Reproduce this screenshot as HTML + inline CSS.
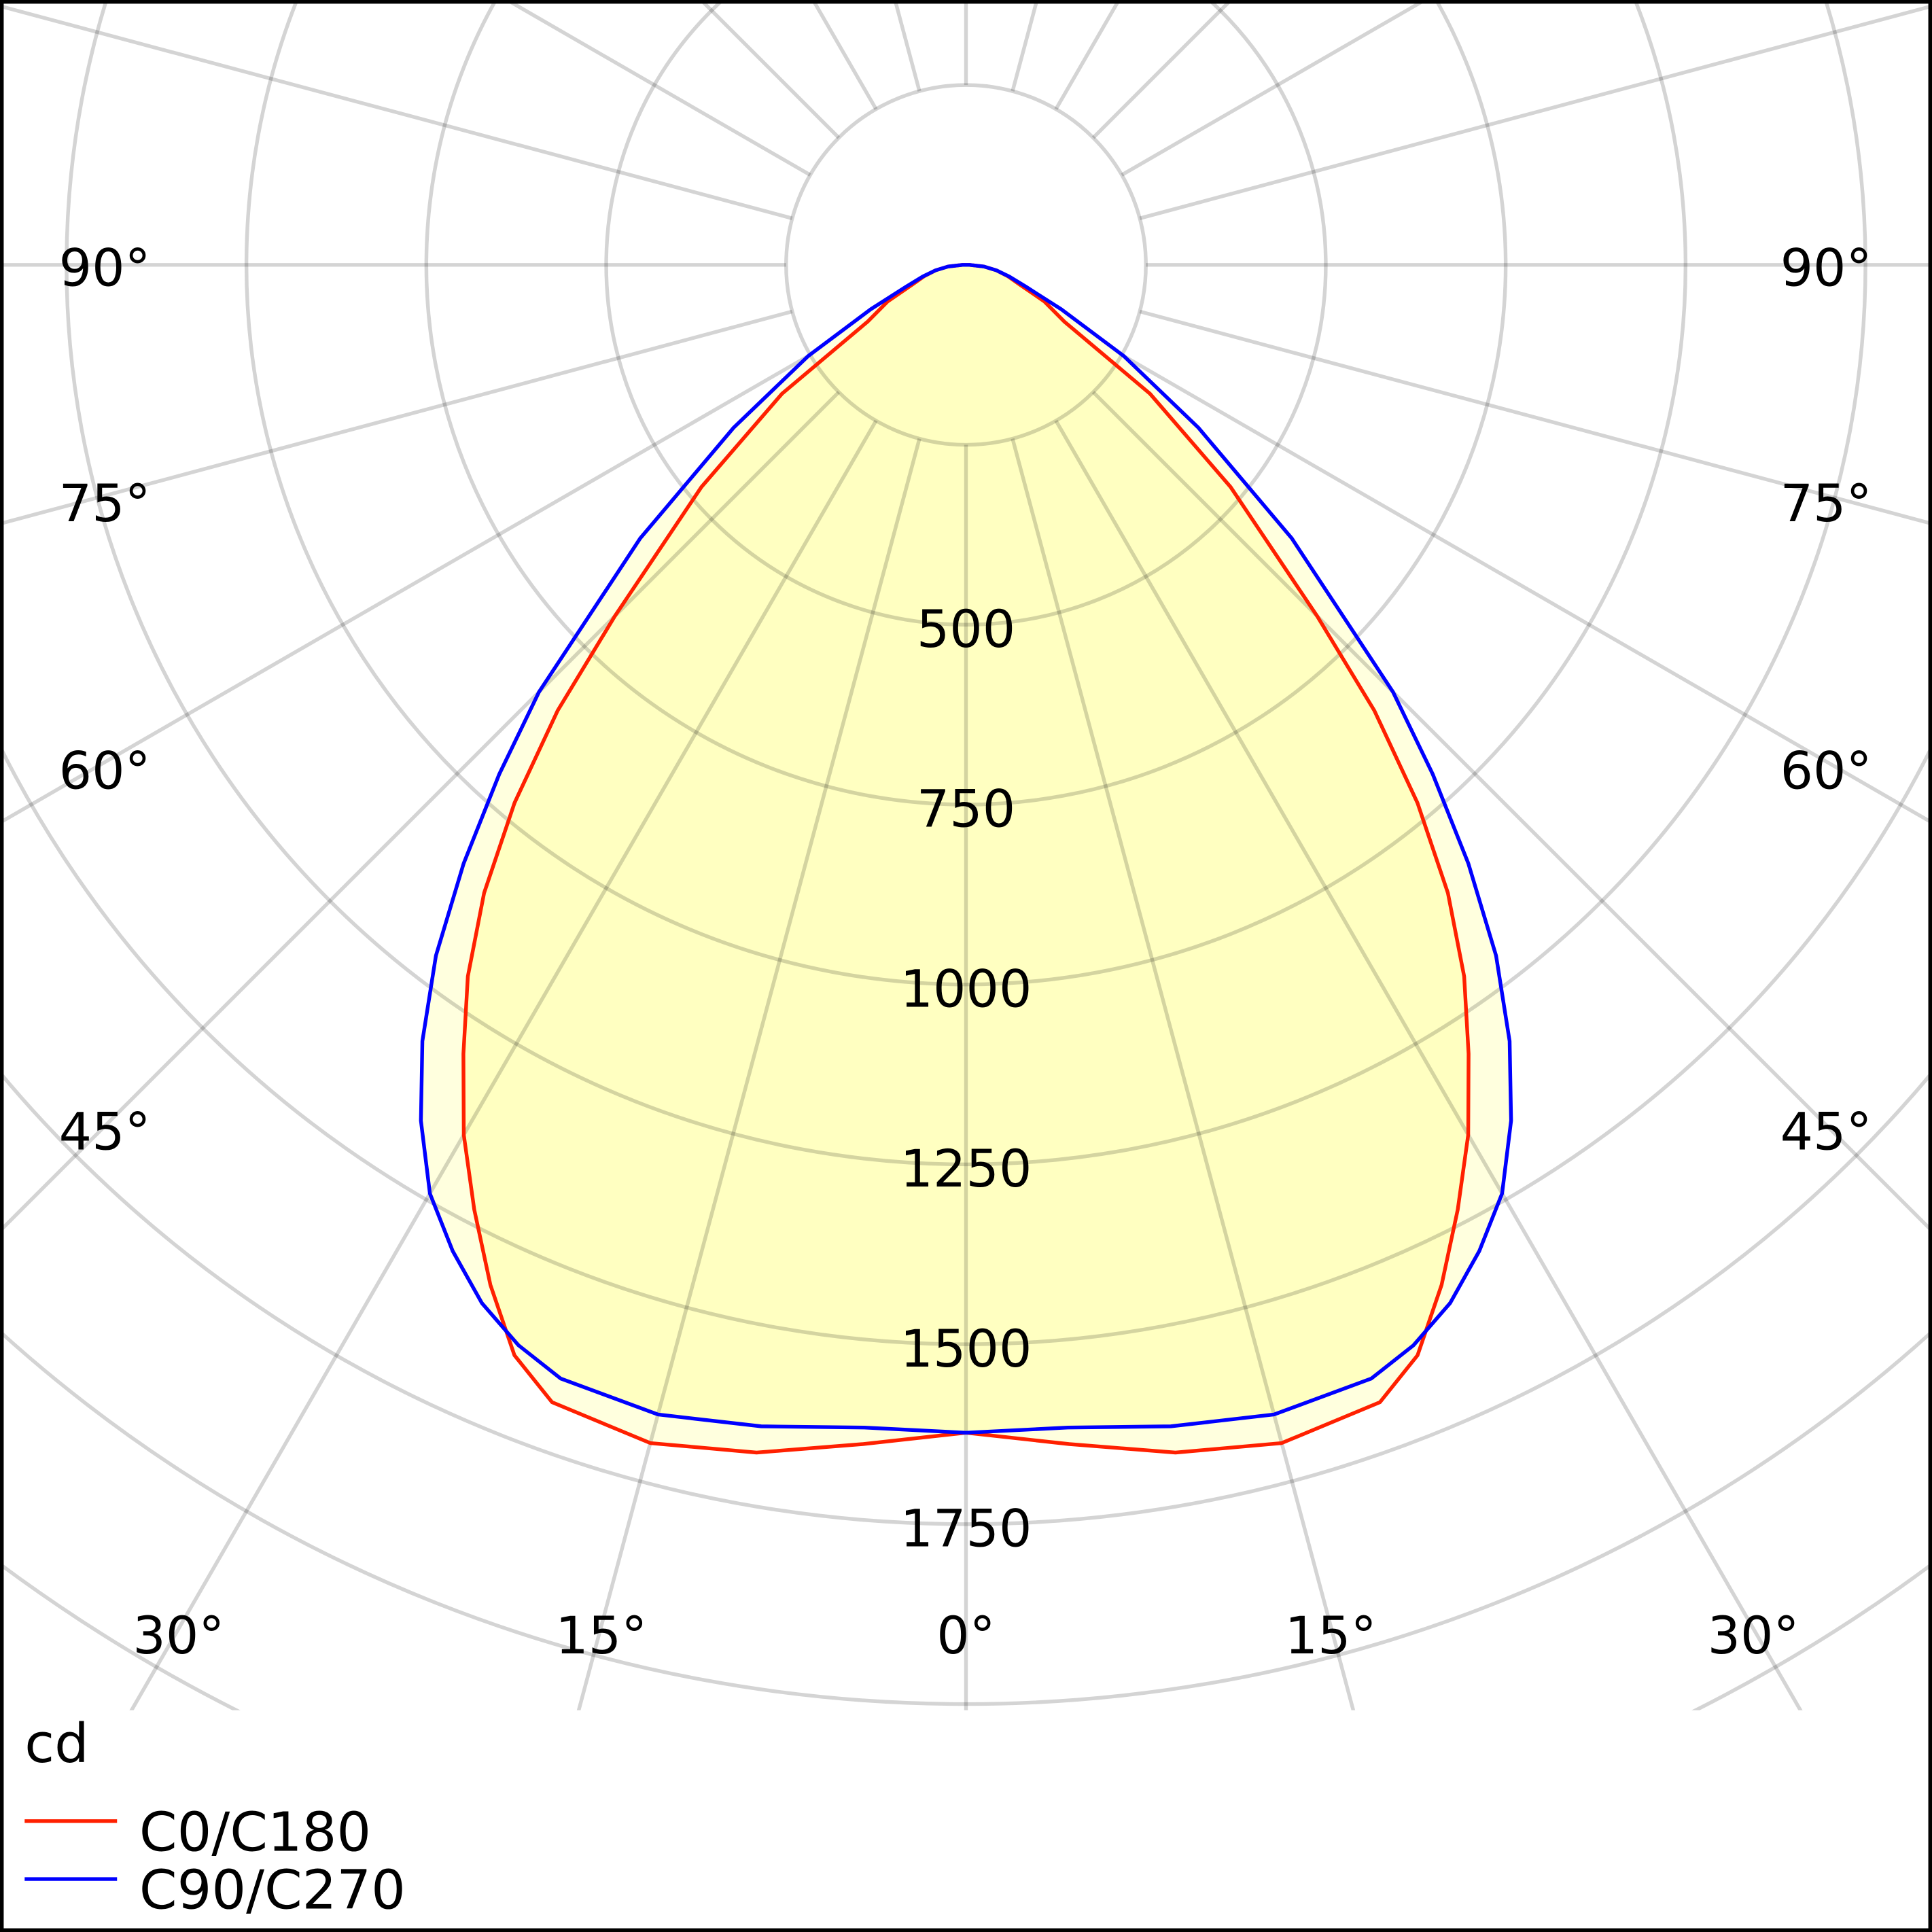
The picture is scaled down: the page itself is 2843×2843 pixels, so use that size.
<!DOCTYPE html>
<html><head><meta charset="utf-8"><style>
html,body{margin:0;padding:0;background:#fff;overflow:hidden;width:2843px;height:2843px}
svg{display:block}
text{font-family:"DejaVu Sans","Liberation Sans",sans-serif;fill:#000}
</style></head><body>
<svg id="chart" width="2843" height="2843" viewBox="0 0 1568 1568" xmlns="http://www.w3.org/2000/svg">
<defs><clipPath id="plotclip"><rect x="0" y="0" width="1568" height="1388"/></clipPath></defs>
<rect x="0" y="0" width="1568" height="1568" fill="#fff"/>
<g id="fills" clip-path="url(#plotclip)"></g>
<g id="grid" clip-path="url(#plotclip)"></g>
<g id="curves" clip-path="url(#plotclip)"></g>
<g id="labels"></g>
<g>
<text x="20" y="1430" font-size="44">cd</text>
<line x1="20" y1="1478" x2="95" y2="1478" stroke="#ff2000" stroke-width="3"/>
<text x="113" y="1502" font-size="44">C0/C180</text>
<line x1="20" y1="1525" x2="95" y2="1525" stroke="#0000ff" stroke-width="3"/>
<text x="113" y="1549" font-size="44">C90/C270</text>
</g>
<rect x="1.5" y="1.5" width="1565" height="1565" fill="none" stroke="#000" stroke-width="3"/>
</svg>
<script>
const angles = [0,5,10,15,20,22.5,25,27.5,30,32.5,35,37.5,40,42.5,45,50,55,60,65,70,75,80,85,90];
const c0Values = [1623,1645,1676,1695,1682,1640,1564,1480,1396,1300,1207,1100,976,840,690,480,312,158,120,79,60,43,25,5];
const c90Values = [1623,1622,1639,1654,1647,1625,1592,1545,1490,1410,1317,1210,1086,960,839,591,394,253,146,89,62,43,25,5];
const ringValues = [250,500,750,1000,1250,1500,1750,2000,2250,2500,2750,3000,3250];
const ringLabels = ["500","750","1000","1250","1500","1750"];
const angleTicks = [90,75,60,45];
const angleTickY = [232,423,640,933];
const bottomAngleTicks = [30,15,0];
const NS = "http://www.w3.org/2000/svg";
const cx = 784, cy = 215, pxPer250 = 146;
function rScale(v){ return v/250*pxPer250; }
function pt(g, v, side){ const a=g*Math.PI/180, r=rScale(v); return [cx + side*r*Math.sin(a), cy + r*Math.cos(a)]; }
function mk(tag, attrs, parent){ const e=document.createElementNS(NS,tag); for(const k in attrs) e.setAttribute(k,attrs[k]); parent.appendChild(e); return e; }
function curvePts(vals){
  const pts=[];
  for(let i=angles.length-1;i>=0;i--) pts.push(pt(angles[i],vals[i],-1));
  for(let i=1;i<angles.length;i++) pts.push(pt(angles[i],vals[i],1));
  return pts.map(p=>p[0].toFixed(1)+","+p[1].toFixed(1)).join(" ");
}
const fills=document.getElementById('fills'), grid=document.getElementById('grid'), curves=document.getElementById('curves'), labels=document.getElementById('labels');
[[c90Values,'fill-c90'],[c0Values,'fill-c0']].forEach(([vals,name])=>{
  const p=mk('polygon',{points:curvePts(vals),fill:'rgba(255,255,0,0.13)',stroke:'none'},fills);
  
  
});
ringValues.forEach(v=>{
  const c=mk('circle',{cx:cx,cy:cy,r:rScale(v),fill:'none',stroke:'rgba(0,0,0,0.17)','stroke-width':3},grid);
  
  
});
for(let g=0; g<360; g+=15){
  const a=g*Math.PI/180, r0=rScale(250), r1=3000;
  const l=mk('line',{x1:cx+r0*Math.sin(a),y1:cy+r0*Math.cos(a),x2:cx+r1*Math.sin(a),y2:cy+r1*Math.cos(a),stroke:'rgba(0,0,0,0.17)','stroke-width':3},grid);
  
  
}
[[c0Values,'#ff2000','curve-c0-c180'],[c90Values,'#0000ff','curve-c90-c270']].forEach(([vals,col,name])=>{
  const p=mk('polygon',{points:curvePts(vals),fill:'none',stroke:col,'stroke-width':3,'stroke-linejoin':'round'},curves);
  
  
});
ringLabels.forEach(s=>{
  const v=+s;
  const t=mk('text',{x:cx,y:cy+rScale(v)+18,'font-size':42,'text-anchor':'middle'},labels);
  t.textContent=s;
  
  
});
angleTicks.forEach((g,i)=>{
  const y=angleTickY[i];
  [[-1,85],[1,1482]].forEach(([s,x])=>{
    const t=mk('text',{x:x,y:y,'font-size':42,'text-anchor':'middle'},labels);
    t.textContent=g+'°';
    
    
  });
});
bottomAngleTicks.forEach(g=>{
  const dx = g===0?0:(g===15?296:639);
  [-1,1].forEach(s=>{
    if(g===0 && s>0) return;
    const t=mk('text',{x:cx+s*dx,y:1342,'font-size':42,'text-anchor':'middle'},labels);
    t.textContent=g+'°';
    
    
  });
});
</script>
</body></html>
